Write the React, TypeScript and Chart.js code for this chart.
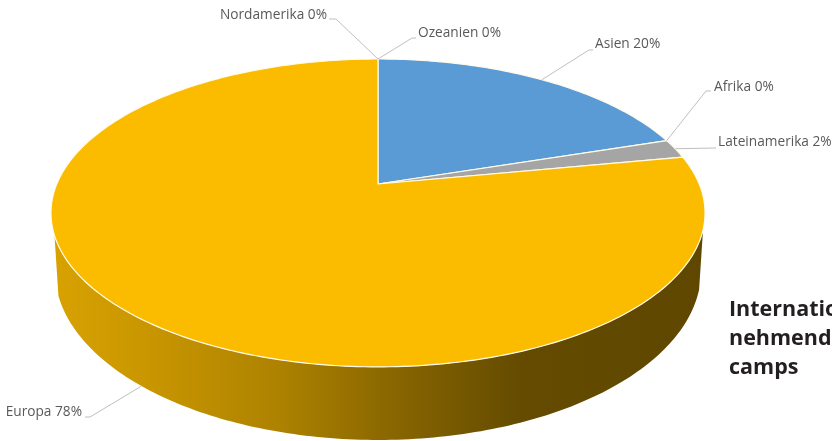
import { useEffect, useRef } from "react";
import { ArcElement, Chart, PieController, registerables } from "chart.js";

const regions = ["Ozeanien", "Asien", "Afrika", "Lateinamerika", "Europa", "Nordamerika"];
const shares = [0, 20, 0, 2, 78, 0];
const sliceColors = ["#4472C4", "#5B9BD5", "#ED7D31", "#A5A5A5", "#FBBC00", "#70AD47"];
const headingLines = ["Internationale Teil-", "nehmende in Work-", "camps"];

// Leader elbow and text anchor per region, in canvas pixels.
const labelElbows = [
  [[412, 38], [416, 38]],
  [[589, 50], [593, 50]],
  [[706, 91], [711, 91]],
  [[716, 148]],
  [[90, 417], [85, 417]],
  [[336, 19], [329, 19]],
];
const labelAnchors = [
  [418, 33, "left"],
  [595, 44, "left"],
  [714, 87, "left"],
  [718, 142, "left"],
  [82, 412, "right"],
  [327, 15, "right"],
];

// Perspective of the disc: the far half is foreshortened, so the pivot sits above the rim's centre.
const PIE_RADIUS = 183.4;
const TILT = 0.188;
const TOP_RIM = { a: 321.2 / PIE_RADIUS, b: 148.5 / PIE_RADIUS, drop: 0 };
const BOTTOM_RIM = { a: 317.3 / PIE_RADIUS, b: 163 / PIE_RADIUS, drop: 55.2 / PIE_RADIUS };
const WALL_FROM = (17 * Math.PI) / 180;
const WALL_TO = (161 * Math.PI) / 180;
const WALL_SHADES = [
  [0, 0.86],
  [0.15, 0.8],
  [0.35, 0.69],
  [0.55, 0.52],
  [0.72, 0.4],
  [1, 0.38],
];

type Rim = typeof TOP_RIM;

function rimPoint(rim: Rim, x: number, y: number, r: number, angle: number) {
  const u = Math.cos(angle);
  const v = Math.sin(angle);
  const w = 1 - TILT * v;
  return { x: x + (rim.a * r * u) / w, y: y + rim.drop * r + (rim.b * r * v) / w };
}

function shade(hex: string, f: number) {
  const n = parseInt(hex.slice(1), 16);
  return `rgb(${((n >> 16) & 255) * f},${((n >> 8) & 255) * f},${(n & 255) * f})`;
}

class TiltedArc extends ArcElement {
  static id = "tiltedArc";

  draw(ctx: CanvasRenderingContext2D) {
    const el = this as any;
    const { x, y, outerRadius: r, startAngle, endAngle, options } = el;
    if (endAngle - startAngle <= 0) return;

    // Visible part of the outer wall, between the two rims.
    const from = Math.max(startAngle, WALL_FROM);
    const to = Math.min(endAngle, WALL_TO);
    if (to > from) {
      const steps = 160;
      ctx.beginPath();
      for (let i = 0; i <= steps; i++) {
        const p = rimPoint(TOP_RIM, x, y, r, from + ((to - from) * i) / steps);
        i ? ctx.lineTo(p.x, p.y) : ctx.moveTo(p.x, p.y);
      }
      for (let i = steps; i >= 0; i--) {
        const p = rimPoint(BOTTOM_RIM, x, y, r, from + ((to - from) * i) / steps);
        ctx.lineTo(p.x, p.y);
      }
      ctx.closePath();
      const left = x - 327;
      const g = ctx.createLinearGradient(left, 0, left + 654, 0);
      WALL_SHADES.forEach(([stop, f]) => g.addColorStop(stop, shade(options.backgroundColor, f)));
      ctx.fillStyle = g;
      ctx.fill();
    }

    // Top face of the slice.
    const steps = Math.max(2, Math.ceil((endAngle - startAngle) * 60));
    ctx.beginPath();
    ctx.moveTo(x, y);
    for (let i = 0; i <= steps; i++) {
      const p = rimPoint(TOP_RIM, x, y, r, startAngle + ((endAngle - startAngle) * i) / steps);
      ctx.lineTo(p.x, p.y);
    }
    ctx.closePath();
    ctx.fillStyle = options.backgroundColor;
    ctx.fill();
    ctx.strokeStyle = options.borderColor;
    ctx.lineWidth = options.borderWidth;
    ctx.lineJoin = "round";
    ctx.stroke();
  }
}

class TiltedPieController extends PieController {
  static id = "tiltedPie";
  static defaults = { dataElementType: "tiltedArc" };
}

Chart.register(...registerables, TiltedArc, TiltedPieController);

const sliceLabels = {
  id: "sliceLabels",
  afterDatasetsDraw(chart: any) {
    const { ctx } = chart;
    const arcs = chart.getDatasetMeta(0).data;
    ctx.save();
    arcs.forEach((arc: any, i: number) => {
      const mid = (arc.startAngle + arc.endAngle) / 2;
      const onWall = mid > WALL_FROM && mid < WALL_TO;
      const start = rimPoint(onWall ? BOTTOM_RIM : TOP_RIM, arc.x, arc.y, arc.outerRadius, mid);
      ctx.beginPath();
      ctx.moveTo(start.x, start.y);
      labelElbows[i].forEach(([ex, ey]) => ctx.lineTo(ex, ey));
      ctx.strokeStyle = "#BFBFBF";
      ctx.lineWidth = 1;
      ctx.stroke();

      const [tx, ty, align] = labelAnchors[i] as [number, number, CanvasTextAlign];
      ctx.font = '13.7px "Open Sans"';
      ctx.fillStyle = "#595959";
      ctx.textAlign = align;
      ctx.textBaseline = "middle";
      ctx.fillText(`${chart.data.labels[i]} ${shares[i]}%`, tx, ty);
    });

    ctx.font = 'bold 21.5px "Open Sans"';
    ctx.fillStyle = "#231F20";
    ctx.textAlign = "left";
    ctx.textBaseline = "alphabetic";
    headingLines.forEach((line, i) => ctx.fillText(line, 729, 316 + i * 29));
    ctx.restore();
  },
};

export default function App() {
  const canvasRef = useRef<HTMLCanvasElement>(null);

  useEffect(() => {
    const chart = new Chart(canvasRef.current!, {
      type: "tiltedPie" as any,
      data: {
        labels: regions,
        datasets: [
          {
            data: shares,
            backgroundColor: sliceColors,
            borderColor: "#FFFBEA",
            borderWidth: 1.2,
            clip: false,
          } as any,
        ],
      },
      options: {
        animation: false,
        responsive: false,
        maintainAspectRatio: false,
        layout: { padding: { right: 76, bottom: 73 } },
        plugins: { legend: { display: false }, tooltip: { enabled: false }, title: { display: false } },
      },
      plugins: [sliceLabels],
    });
    return () => chart.destroy();
  }, []);

  return (
    <div style={{ position: "fixed", left: 0, top: 0, width: 832, height: 441, overflow: "hidden", background: "#fff" }}>
      <canvas ref={canvasRef} width={832} height={441} />
    </div>
  );
}
